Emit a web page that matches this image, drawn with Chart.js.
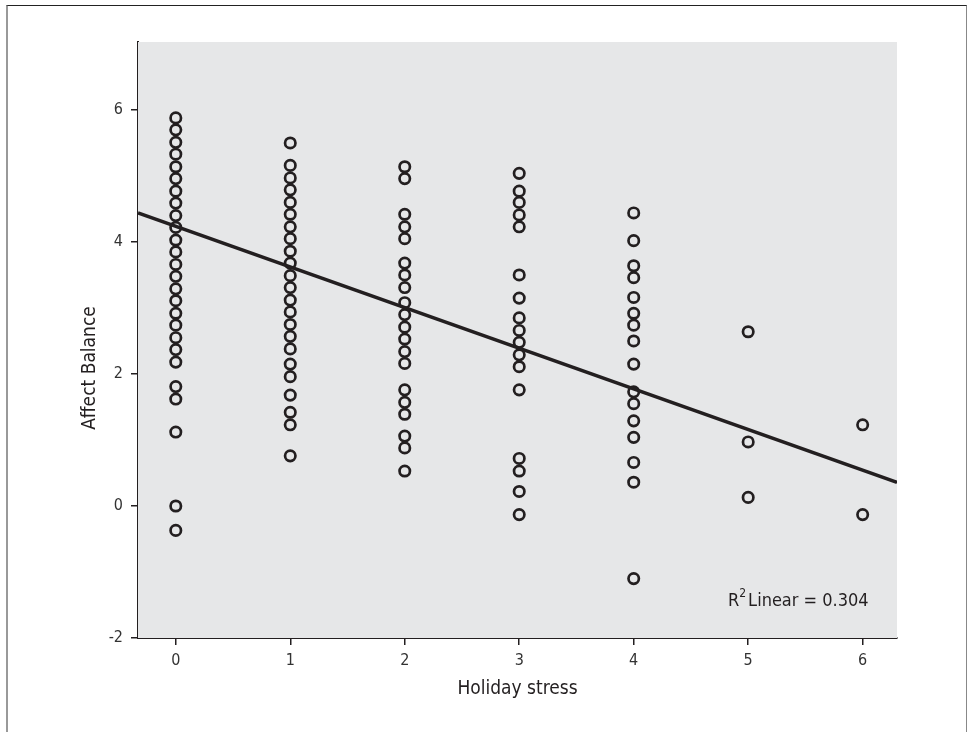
<!DOCTYPE html>
<html>
<head>
<meta charset="utf-8">
<title>Affect Balance by Holiday stress</title>
<script src="https://cdn.jsdelivr.net/npm/chart.js@4.4.1/dist/chart.umd.min.js"></script>
<style>
  html, body { margin: 0; padding: 0; background: #fff; }
  #wrap { position: relative; width: 971px; height: 732px; overflow: hidden; }
  #frame {
    position: absolute; left: 6px; top: 5px; width: 958px; height: 740px;
    border-top: 1px solid #222; border-left: 2px solid #999; border-right: 1px solid #888;
  }
  #chart { position: absolute; left: 0; top: 0; }
</style>
</head>
<body>
<div id="wrap">
  <div id="frame"></div>
  <canvas id="chart" width="971" height="732"></canvas>
</div>
<script>
  // Affect Balance scores, one array per Holiday stress level
  var stress0 = [5.88, 5.70, 5.51, 5.33, 5.14, 4.96, 4.77, 4.59, 4.40, 4.22, 4.03, 3.85, 3.66,
                 3.48, 3.29, 3.11, 2.92, 2.74, 2.55, 2.37, 2.18, 1.81, 1.62, 1.12, 0.00, -0.37];
  var stress1 = [5.50, 5.16, 4.97, 4.79, 4.60, 4.42, 4.23, 4.05, 3.86, 3.68, 3.49, 3.31,
                 3.12, 2.94, 2.75, 2.57, 2.38, 2.15, 1.96, 1.68, 1.42, 1.23, 0.76];
  var stress2 = [5.14, 4.96, 4.42, 4.23, 4.05, 3.68, 3.50, 3.31, 3.08, 2.90, 2.71, 2.53,
                 2.34, 2.16, 1.76, 1.57, 1.39, 1.06, 0.88, 0.53];
  var stress3 = [5.04, 4.77, 4.60, 4.41, 4.23, 3.50, 3.15, 2.85, 2.66, 2.48, 2.29, 2.11,
                 1.76, 0.72, 0.53, 0.22, -0.13];
  var stress4 = [4.44, 4.02, 3.64, 3.46, 3.16, 2.92, 2.74, 2.50, 2.15, 1.73, 1.55, 1.29,
                 1.04, 0.66, 0.36, -1.10];
  var stress5 = [2.64, 0.97, 0.13];
  var stress6 = [1.23, -0.13];

  // linear fit line, end points at the edges of the x range
  var fitX = [-0.33, 6.30];
  var fitY = [4.44, 0.36];
  var r2Linear = 0.304;

  var xTicks = [0, 1, 2, 3, 4, 5, 6];
  var yTicks = [-2, 0, 2, 4, 6];

  var ink = '#231f20';
  var fontName = "'Liberation Sans Narrow', 'DejaVu Sans Condensed', 'Liberation Sans', sans-serif";

  var points = [];
  [stress0, stress1, stress2, stress3, stress4, stress5, stress6].forEach(function(col, i) {
    col.forEach(function(v) { points.push({ x: i, y: v }); });
  });

  // gray plot background, axis titles and the R² note
  var decor = {
    id: 'decor',
    beforeDatasetsDraw: function(chart) {
      var a = chart.chartArea, c = chart.ctx;
      c.save();
      c.fillStyle = '#e6e7e8';
      c.fillRect(a.left, a.top, a.right - a.left, a.bottom - a.top);
      c.restore();
    },
    afterDraw: function(chart) {
      var c = chart.ctx, a = chart.chartArea;
      c.save();
      c.fillStyle = ink;
      c.font = '19px ' + fontName;
      c.textAlign = 'center';
      c.textBaseline = 'middle';
      c.fillText('Holiday stress', (a.left + a.right) / 2, 689);
      c.translate(90, 368);
      c.rotate(-Math.PI / 2);
      c.fillText('Affect Balance', 0, 0);
      c.restore();

      c.save();
      c.fillStyle = ink;
      c.textBaseline = 'alphabetic';
      c.textAlign = 'left';
      var x = 728, y = 606;
      c.font = '18px ' + fontName;
      c.fillText('R', x, y);
      x += c.measureText('R').width;
      c.font = '12px ' + fontName;
      c.fillText('2', x, y - 9);
      x += c.measureText('2').width + 2;
      c.font = '18px ' + fontName;
      c.fillText('Linear = ' + r2Linear.toFixed(3), x, y);
      c.restore();
    }
  };

  var ctx = document.getElementById('chart').getContext('2d');
  var chart = new Chart(ctx, {
    type: 'scatter',
    data: {
      datasets: [{
        label: 'Affect Balance',
        data: points,
        pointStyle: 'circle',
        pointRadius: 5.2,
        pointHoverRadius: 5.2,
        borderColor: ink,
        backgroundColor: 'rgba(0,0,0,0)',
        pointBorderWidth: 2.7,
        order: 2
      }, {
        type: 'line',
        label: 'Linear fit',
        data: fitX.map(function(x, i) { return { x: x, y: fitY[i] }; }),
        borderColor: ink,
        borderWidth: 3.5,
        pointRadius: 0,
        fill: false,
        order: 1
      }]
    },
    options: {
      responsive: false,
      animation: false,
      layout: { padding: { left: 0, top: 42, right: 74, bottom: 0 } },
      plugins: { legend: { display: false }, tooltip: { enabled: false } },
      scales: {
        x: {
          type: 'linear',
          min: -0.33,
          max: 6.3,
          afterFit: function(s) { s.height = 94; },
          afterBuildTicks: function(s) { s.ticks = xTicks.map(function(v) { return { value: v }; }); },
          grid: { drawOnChartArea: false, drawTicks: true, tickLength: 7, color: ink, lineWidth: 1.5 },
          border: { display: true, color: ink, width: 2 },
          ticks: { color: '#333', padding: 6, font: { family: fontName, size: 16 } }
        },
        y: {
          type: 'linear',
          min: -2,
          max: 7.03,
          afterFit: function(s) { s.width = 138; },
          afterBuildTicks: function(s) { s.ticks = yTicks.map(function(v) { return { value: v }; }); },
          grid: { drawOnChartArea: false, drawTicks: true, tickLength: 7, color: ink, lineWidth: 1.5 },
          border: { display: true, color: ink, width: 2 },
          ticks: { color: '#333', padding: 8, font: { family: fontName, size: 16 } }
        }
      }
    },
    plugins: [decor]
  });
</script>
</body>
</html>
